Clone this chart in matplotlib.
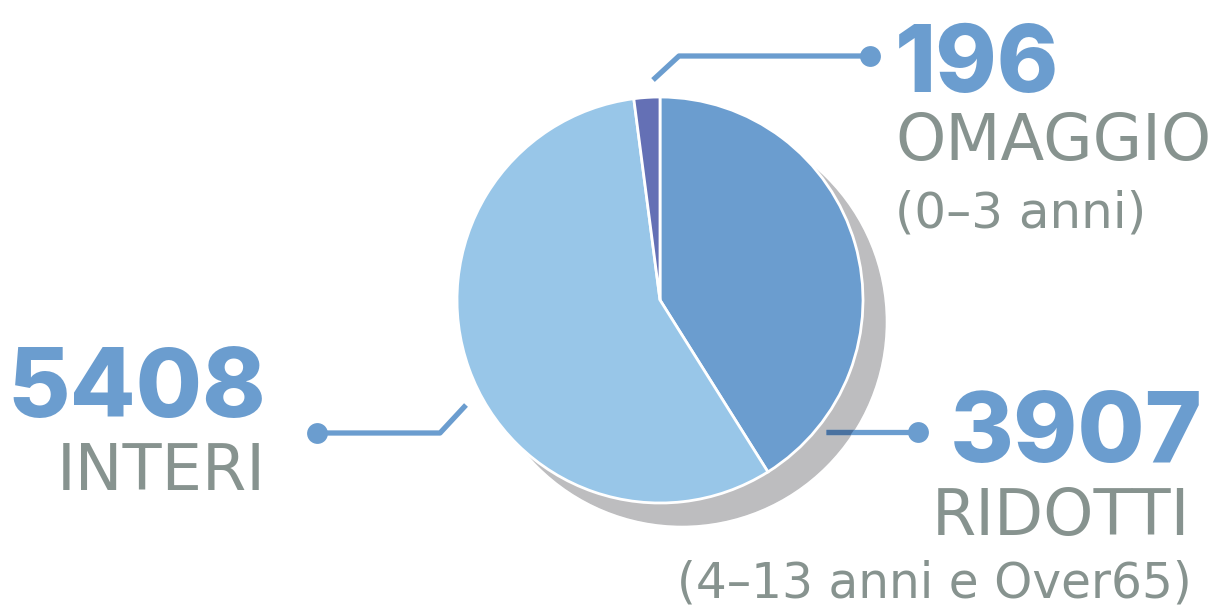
import matplotlib.pyplot as plt
from matplotlib.patches import Circle

# data
categories = ['RIDOTTI', 'INTERI', 'OMAGGIO']
values = [3907, 5408, 196]
subtitles = ['(4\u201313 anni e Over65)', '', '(0\u20133 anni)']
colors = ['#6b9dcf', '#98c6e8', '#6470b5']

blue = '#6b9dcf'
grey = '#87938f'
W, H = 1222, 607

fig = plt.figure(figsize=(W / 100, H / 100), dpi=100)
ax = fig.add_axes([0, 0, 1, 1])

cx, cy, r = 660, H - 300, 203

# shadow
shadow = Circle((cx + 22, cy - 22), r, color='#bdbdbf', zorder=1)
ax.add_patch(shadow)

ax.pie(values, colors=colors, startangle=90, counterclock=False,
       center=(cx, cy), radius=r, frame=True,
       wedgeprops=dict(edgecolor='white', linewidth=2, zorder=2))
ax.set_xlim(0, W)
ax.set_ylim(0, H)
ax.set_aspect('equal')
ax.axis('off')

lw = 3.8
# leader lines
def leader(xs, ys, dot):
    ys = [H - y for y in ys]
    ax.plot(xs, ys, color=blue, lw=lw, solid_capstyle='butt', zorder=3)
    ax.plot([dot[0]], [H - dot[1]], 'o', color=blue, ms=15, mec='none', zorder=4)

leader([653, 679, 870], [80, 56, 56], (870, 56))
leader([317, 440, 466], [433, 433, 405], (317, 433))
leader([826, 918], [432, 432], (918, 432))
# part of the ridotti line lying over the shadow looks darker
dark, = ax.plot([826, 918], [H - 432, H - 432], color='#4a72a0', lw=lw,
                solid_capstyle='butt', zorder=3.5)
dark.set_clip_path(Circle((cx + 22, cy - 22), r, transform=ax.transData))

num_font = dict(family='Inter', fontweight='heavy', color=blue)
lab_font = dict(family='DejaVu Sans', color=grey)

# omaggio
ax.text(895, H - 92, str(values[2]), fontsize=67, ha='left', va='baseline', **num_font)
ax.text(895, H - 160, categories[2], fontsize=46, ha='left', va='baseline', **lab_font)
ax.text(895, H - 228, subtitles[2], fontsize=36, ha='left', va='baseline', **lab_font)

# interi
ax.text(266, H - 417, str(values[1]), fontsize=69, ha='right', va='baseline', **num_font)
ax.text(266, H - 490, categories[1], fontsize=46, ha='right', va='baseline', **lab_font)

# ridotti
ax.text(1203, H - 462, str(values[0]), fontsize=70, ha='right', va='baseline', **num_font)
ax.text(1190, H - 535, categories[0], fontsize=46, ha='right', va='baseline', **lab_font)
ax.text(1192, H - 597, subtitles[0], fontsize=35, ha='right', va='baseline', **lab_font)

fig.savefig('out.png', dpi=100)
